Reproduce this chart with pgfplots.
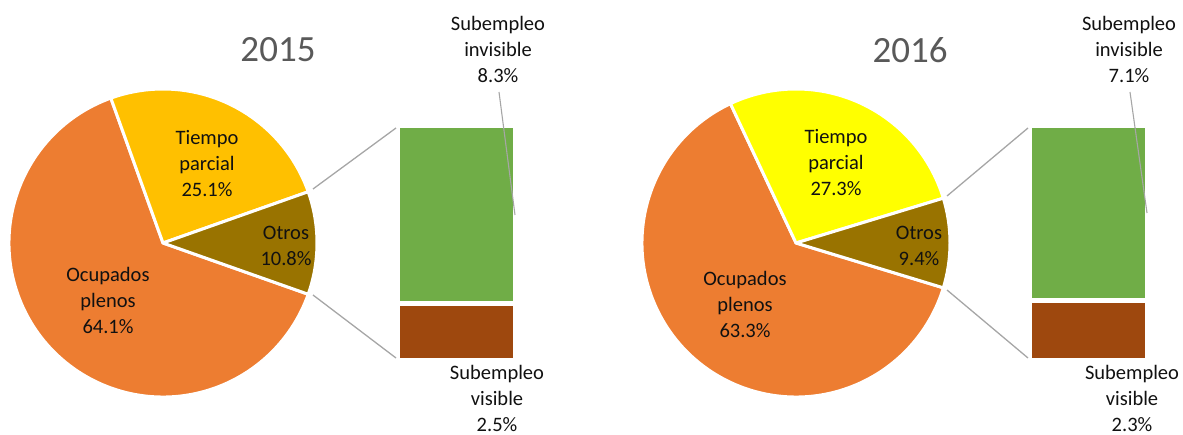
\documentclass[border=0pt]{standalone}
\usepackage{pgfplots}
\pgfplotsset{compat=1.18}
\usepackage{fontspec}
\setmainfont{Carlito}
\definecolor{cOcup}{HTML}{ED7D31}
\definecolor{cTP15}{HTML}{FFC000}
\definecolor{cTP16}{HTML}{FFFF00}
\definecolor{cOtros}{HTML}{997300}
\definecolor{cInv}{HTML}{70AD47}
\definecolor{cVis}{HTML}{9E480E}
\definecolor{cLine}{HTML}{A6A6A6}
\definecolor{cTitle}{HTML}{595959}
\definecolor{cText}{HTML}{111111}

% data (percent)
\def\aTP{25.1}\def\aOt{10.8}\def\aOc{64.1}\def\aSI{8.3}\def\aSV{2.5}
\def\bTP{27.3}\def\bOt{9.4}\def\bOc{63.3}\def\bSI{7.1}\def\bSV{2.3}

\tikzset{
  lbl/.style={font=\fontsize{20.5}{26}\selectfont, text=cText, align=center, inner sep=0pt},
  ttl/.style={font=\fontsize{37}{40}\selectfont, text=cTitle, inner sep=0pt},
  sl/.style={draw=white, line width=3pt, line join=round},
}

% \pieofbar{cx}{cy}{TP}{Ot}{SI}{SV}{TPcolor}{barx}
\newcommand{\pieofbar}[8]{%
  \fill[cOcup, sl]
    (axis cs:#1,#2) -- ++({#3*3.6+#4*1.8}:154pt)
    arc[start angle={#3*3.6+#4*1.8}, end angle={360-#4*1.8}, radius=154pt] -- cycle;
  \fill[#7, sl]
    (axis cs:#1,#2) -- ++({#4*1.8}:154pt)
    arc[start angle={#4*1.8}, end angle={#3*3.6+#4*1.8}, radius=154pt] -- cycle;
  \fill[cOtros, sl]
    (axis cs:#1,#2) -- ++({-#4*1.8}:154pt)
    arc[start angle={-#4*1.8}, end angle={#4*1.8}, radius=154pt] -- cycle;
  \fill[cVis] (axis cs:#8,76) rectangle (axis cs:{#8+112.5},{76+225*#6/#4});
  \fill[cInv] (axis cs:#8,{306-225*#5/#4}) rectangle (axis cs:{#8+112.5},306);
}

\begin{document}
\begin{tikzpicture}
\begin{axis}[
  x=1pt, y=1pt, xmin=0, xmax=1183, ymin=0, ymax=434,
  hide axis, clip=false,
]
\pieofbar{163}{191}{\aTP}{\aOt}{\aSI}{\aSV}{cTP15}{400}
\pieofbar{796}{191}{\bTP}{\bOt}{\bSI}{\bSV}{cTP16}{1032}

% connector lines
\draw[cLine, line width=1.3pt] (axis cs:313,245) -- (axis cs:396,306);
\draw[cLine, line width=1.3pt] (axis cs:313,139) -- (axis cs:396,76);
\draw[cLine, line width=1.3pt] (axis cs:947,238) -- (axis cs:1028,306);
\draw[cLine, line width=1.3pt] (axis cs:947,144) -- (axis cs:1028,76);
% leader lines
\draw[cLine, line width=1.1pt] (axis cs:499,342) -- (axis cs:515,219);
\draw[cLine, line width=1.1pt] (axis cs:1130,342) -- (axis cs:1147,221);

% titles
\node[ttl] at (axis cs:278,384) {2015};
\node[ttl] at (axis cs:910,384) {2016};

% slice labels 2015
\node[lbl] at (axis cs:207,270) {Tiempo\\parcial\\25.1\%};
\node[lbl] at (axis cs:286,188) {Otros\\10.8\%};
\node[lbl] at (axis cs:108,134) {Ocupados\\plenos\\64.1\%};
\node[lbl] at (axis cs:498,385) {Subempleo\\invisible\\8.3\%};
\node[lbl] at (axis cs:497,36) {Subempleo\\visible\\2.5\%};
% slice labels 2016
\node[lbl] at (axis cs:836,271) {Tiempo\\parcial\\27.3\%};
\node[lbl] at (axis cs:919,188) {Otros\\9.4\%};
\node[lbl] at (axis cs:745,130) {Ocupados\\plenos\\63.3\%};
\node[lbl] at (axis cs:1129,385) {Subempleo\\invisible\\7.1\%};
\node[lbl] at (axis cs:1132,36) {Subempleo\\visible\\2.3\%};
\end{axis}
\pgfresetboundingbox
\path (current axis.south west) rectangle (current axis.north east);
\end{tikzpicture}
\end{document}
